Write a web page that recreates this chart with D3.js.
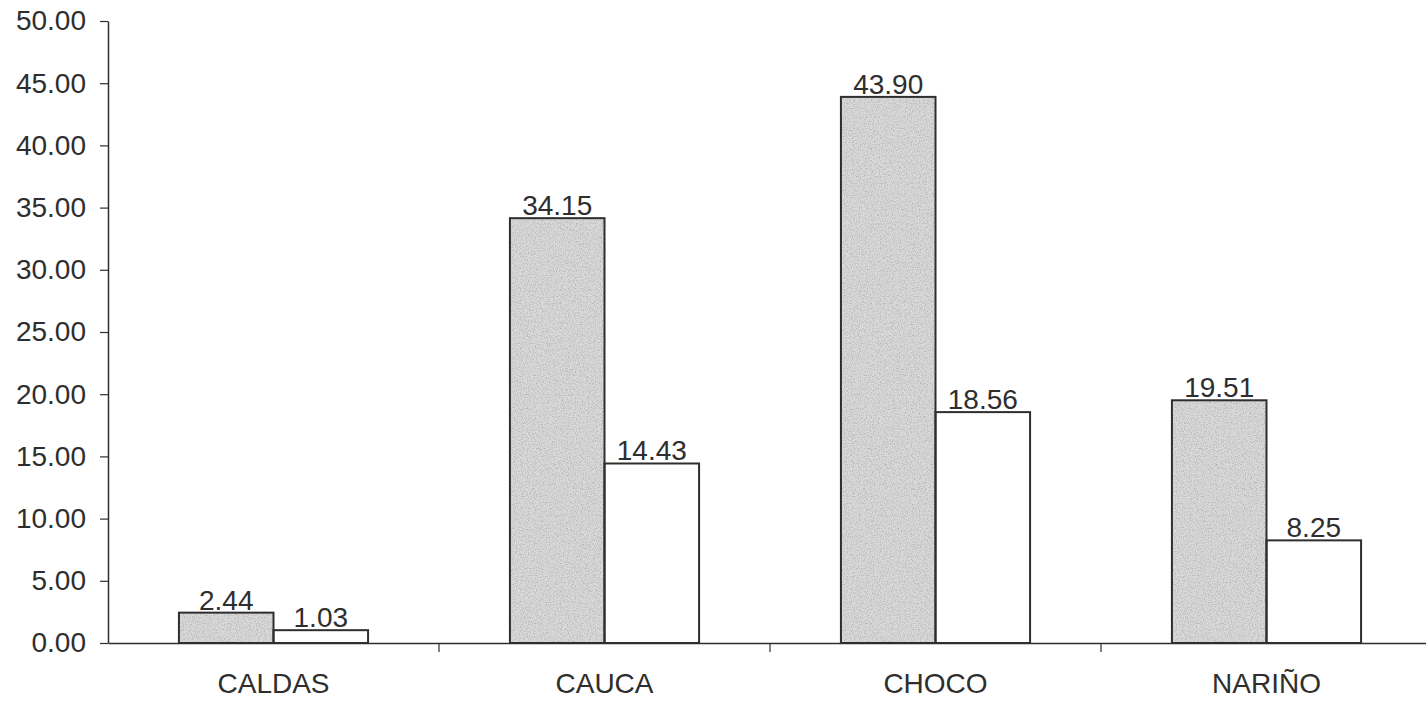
<!DOCTYPE html>
<html><head><meta charset="utf-8">
<script src="https://cdn.jsdelivr.net/npm/d3@7"></script>
<style>
html,body{margin:0;padding:0;background:#fff;}
svg{display:block;font-family:"Liberation Sans",Arial,sans-serif;}
</style></head>
<body>
<svg id="chart" width="1426" height="704"></svg>
<script>
const categories = ["CALDAS", "CAUCA", "CHOCO", "NARIÑO"];
const seriesNames = ["A", "B"];
const seriesA = [2.44, 34.15, 43.90, 19.51];
const seriesB = [1.03, 14.43, 18.56, 8.25];
const yTicks = [0, 5, 10, 15, 20, 25, 30, 35, 40, 45, 50];

const svg = d3.select("#chart");
const ink = "#2e2e2e";

const defs = svg.append("defs");
const f = defs.append("filter").attr("id","stipple").attr("x",0).attr("y",0).attr("width",1).attr("height",1);
f.append("feTurbulence").attr("type","fractalNoise").attr("baseFrequency","0.85").attr("numOctaves",2).attr("seed",3).attr("result","n");
f.append("feColorMatrix").attr("in","n").attr("type","matrix")
 .attr("values","0 0 0 0 0.45  0 0 0 0 0.45  0 0 0 0 0.45  0 0 0 -2.6 1.5").attr("result","dots");
f.append("feComposite").attr("in","dots").attr("in2","SourceGraphic").attr("operator","in").attr("result","d2");
const fm = f.append("feMerge");
fm.append("feMergeNode").attr("in","SourceGraphic");
fm.append("feMergeNode").attr("in","d2");

const x = d3.scaleBand().domain(categories).range([108, 1432]).paddingInner(0).paddingOuter(0);
const xs = d3.scaleBand().domain(seriesNames).range([0, x.bandwidth()]).paddingInner(0).paddingOuter(0.75);
const y = d3.scaleLinear().domain([0, 50]).range([643, 21]);

// y axis
const yAxis = d3.axisLeft(y).tickValues(yTicks).tickFormat(d3.format(".2f")).tickSize(8).tickSizeOuter(0).tickPadding(14);
const ya = svg.append("g").attr("transform","translate(108,0)").call(yAxis);
ya.select(".domain").attr("stroke", ink).attr("stroke-width", 1.5);
ya.selectAll(".tick line").attr("stroke", ink).attr("stroke-width", 1.2);
ya.selectAll(".tick text").attr("fill", ink).attr("font-size", 28).attr("font-family","Liberation Sans, Arial, sans-serif");

// x axis
const xAxis = d3.axisBottom(x).tickSize(0).tickPadding(30).tickSizeOuter(0);
const xa = svg.append("g").attr("transform","translate(0,643)").call(xAxis);
xa.select(".domain").attr("stroke", ink).attr("stroke-width", 1.5);
xa.selectAll(".tick text").attr("fill", ink).attr("font-size", 28).attr("font-family","Liberation Sans, Arial, sans-serif");
// category separators
svg.append("g").selectAll("line").data(categories.slice(1)).join("line")
  .attr("x1", d => x(d)).attr("x2", d => x(d)).attr("y1", 643).attr("y2", 652)
  .attr("stroke", ink).attr("stroke-width", 1.2);

const rows = categories.map((c,i) => ({cat:c, vals:[{s:"A",v:seriesA[i]},{s:"B",v:seriesB[i]}]}));
const g = svg.append("g").selectAll("g").data(rows).join("g").attr("transform", d => `translate(${x(d.cat)},0)`);

g.selectAll("rect.fill").data(d => d.vals).join("rect").attr("class","fill")
  .attr("x", d => xs(d.s)).attr("width", xs.bandwidth())
  .attr("y", d => y(d.v)).attr("height", d => y(0) - y(d.v))
  .attr("fill", d => d.s === "A" ? "#dadada" : "#ffffff")
  .attr("filter", d => d.s === "A" ? "url(#stipple)" : null);

g.selectAll("rect.edge").data(d => d.vals).join("rect").attr("class","edge")
  .attr("x", d => xs(d.s)).attr("width", xs.bandwidth())
  .attr("y", d => y(d.v)).attr("height", d => y(0) - y(d.v))
  .attr("fill", "none").attr("stroke", ink).attr("stroke-width", 2);

g.selectAll("text.val").data(d => d.vals).join("text").attr("class","val")
  .attr("x", d => xs(d.s) + xs.bandwidth()/2).attr("y", d => y(d.v) - 3)
  .attr("text-anchor","middle").attr("fill", ink).attr("font-size", 28)
  .text(d => d3.format(".2f")(d.v));
</script>
</body></html>
